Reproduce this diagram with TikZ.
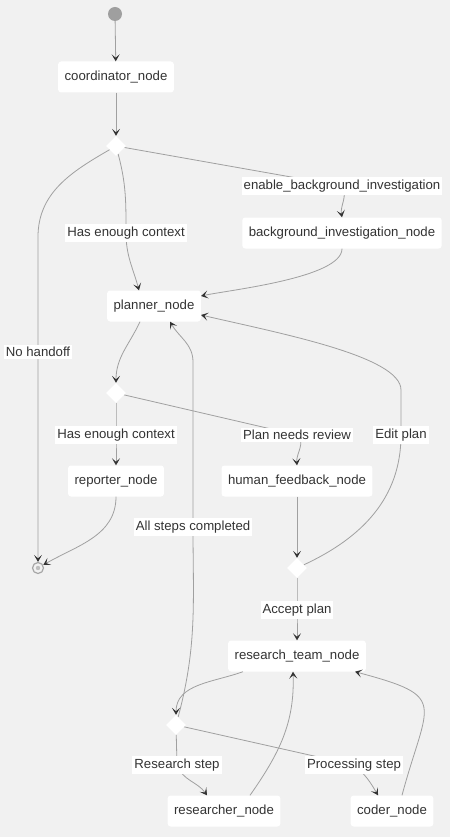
\documentclass[tikz,border=0pt]{standalone}
\usepackage{fontspec}
\setmainfont{Liberation Sans}
\usetikzlibrary{shapes.geometric,arrows.meta,positioning,calc}
\definecolor{canvas}{HTML}{F1F1F1}
\definecolor{wire}{HTML}{A0A0A0}
\definecolor{tip}{HTML}{333333}
\definecolor{ink}{HTML}{333333}

\begin{document}
\begin{tikzpicture}[
      x=1pt,y=1pt,
      font=\fontsize{13.2}{15}\selectfont,text=ink,
      startstop/.style = {circle,inner sep=0},
      process/.style = {rectangle,rounded corners=3pt,fill=white,text centered,minimum height=31pt,inner xsep=6.5pt},
      decision/.style = {diamond,fill=white,minimum size=20pt,inner sep=0},
      edgelabel/.style = {fill=white,text=ink,inner xsep=2pt,inner ysep=2.5pt},
      arrow/.style = {wire,line width=0.8pt,-{Stealth[length=7pt,width=8pt,inset=3.5pt,color=tip]}}
      ]
      \useasboundingbox (0,0) rectangle (450,-837);
      \fill[canvas] (0,0) rectangle (450,-837);

      % states
      \node (start)[startstop,fill=gray!75,minimum size=14pt] at (115,-14) {};
      \node (coordinator)[process] at (116,-77) {coordinator\_node};
      \node (decision1)[decision] at (116,-146) {};
      \node (background)[process] at (342,-233) {background\_investigation\_node};
      \node (planner)[process] at (154,-306) {planner\_node};
      \node (decision2)[decision] at (116,-393) {};
      \node (reporter)[process] at (116,-481) {reporter\_node};
      \node (feedback)[process] at (297,-481) {human\_feedback\_node};
      \node (stop)[startstop,draw=gray!70,line width=1.2pt,minimum size=11pt,
            path picture={\fill[gray!50] (path picture bounding box.center) circle (2.2pt);}] at (38,-568) {};
      \node (decision3)[decision] at (297,-568) {};
      \node (team)[process] at (297,-656) {research\_team\_node};
      \node (decision4)[decision] at (176,-725) {};
      \node (researcher)[process] at (224,-811) {researcher\_node};
      \node (coder)[process] at (392,-811) {coder\_node};

      % label spots
      \coordinate (enable) at (342,-186);
      \coordinate (context1) at (126,-233);
      \coordinate (handoff) at (38,-352);
      \coordinate (context2) at (116,-435);
      \coordinate (review) at (297,-435);
      \coordinate (edit) at (401,-435);
      \coordinate (allsteps) at (193,-527);
      \coordinate (accept) at (297,-610);
      \coordinate (research) at (177,-765);
      \coordinate (processing) at (354,-765);

      \draw[arrow] (start) -- (coordinator);
      \draw[arrow] (coordinator) -- (decision1);
      \draw[arrow] (decision1) -- (enable) node[edgelabel]{enable\_background\_investigation} to[out=-60,in=100] (background.north);
      \draw[arrow] (decision1) to[out=-75,in=90] (context1) node[edgelabel]{Has enough context} to[out=-90,in=105] ([xshift=-15pt]planner.north);
      \draw[arrow] (decision1) to[out=-150,in=90] ($(handoff)+(0,115)$) -- (handoff) node[edgelabel]{No handoff} -- (stop);
      \draw[arrow] (background.south) to[out=-90,in=12,looseness=0.5] ([yshift=10pt]planner.east);
      \draw[arrow] ([xshift=-14pt]planner.south) to[out=-115,in=90] (decision2);
      \draw[arrow] (decision2) -- (context2) node[edgelabel]{Has enough context} -- (reporter);
      \draw[arrow] (decision2) -- (review) node[edgelabel]{Plan needs review} to[out=-40,in=95] (feedback.north);
      \draw[arrow] (reporter.south) to[out=-90,in=30] (stop);
      \draw[arrow] (feedback) -- (decision3);
      \draw[arrow] (decision3) to[out=25,in=-90] (edit) node[edgelabel]{Edit plan} -- ($(edit)+(0,45)$) to[out=90,in=-13,out looseness=0.4] ([yshift=-9pt]planner.east);
      \draw[arrow] (decision3) -- (accept) node[edgelabel]{Accept plan} -- (team);
      \draw[arrow] ([xshift=15pt]team.south west) to[out=-160,in=90] (decision4);
      \draw[arrow] (decision4) to[out=75,in=-90] (allsteps) node[edgelabel]{All steps completed} -- ($(allsteps)+(0,165)$) to[out=90,in=-60] ([xshift=16pt]planner.south);
      \draw[arrow] (decision4) -- (research) node[edgelabel]{Research step} to[out=-70,in=125] ([xshift=-17pt]researcher.north);
      \draw[arrow] (decision4) -- (processing) node[edgelabel]{Processing step} to[out=-40,in=120] ([xshift=-14pt]coder.north);
      \draw[arrow] ([xshift=26pt]researcher.north) to[out=55,in=-88] ([xshift=-4pt]team.south);
      \draw[arrow] ([xshift=10pt]coder.north) to[out=75,in=-15,looseness=1.9] ([xshift=58pt]team.south);
\end{tikzpicture}
\end{document}
